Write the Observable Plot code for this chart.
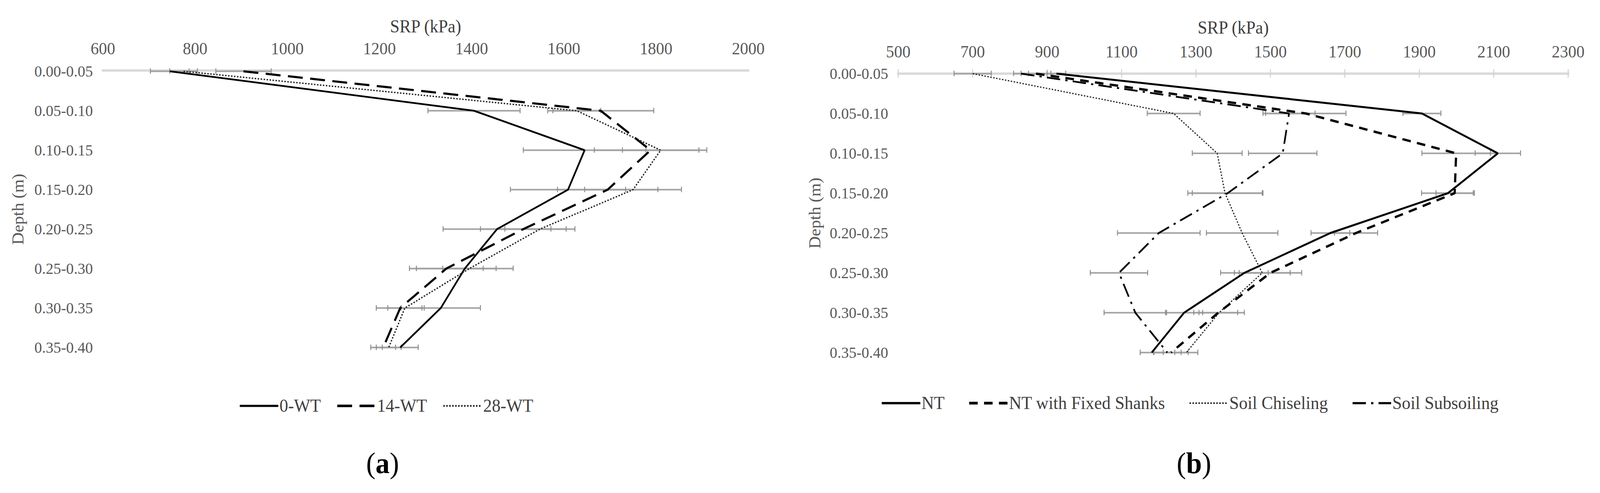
<!DOCTYPE html>
<html><head><meta charset="utf-8">
<script src="https://cdn.jsdelivr.net/npm/d3@7"></script>
<script src="https://cdn.jsdelivr.net/npm/@observablehq/plot@0.6"></script>
<style>
html,body{margin:0;padding:0;background:#fff;overflow:hidden;}
#root{position:relative;width:4299px;height:1262px;overflow:hidden;font-family:"Liberation Serif","Times New Roman",serif;background:#fff;transform-origin:0 0;}
.panel{position:absolute;top:0;}
.panel svg{font-family:"Liberation Serif","Times New Roman",serif !important;font-size:44px;overflow:visible;}
.panel svg text{font-family:"Liberation Serif","Times New Roman",serif !important;}
.legend{position:absolute;display:flex;align-items:center;font-size:46.5px;color:#404040;line-height:1;white-space:nowrap;height:50px;}
.legend .item{display:flex;align-items:center;}
.legend svg{display:block;margin-right:3px;}
.cap{position:absolute;font-size:76px;line-height:1;transform:translate(-50%,-50%);color:#000;white-space:nowrap;}
</style></head><body><div id="root"></div>
<script>
// ---------- shared categories ----------
const depths = ["0.00-0.05","0.05-0.10","0.10-0.15","0.15-0.20","0.20-0.25","0.25-0.30","0.30-0.35","0.35-0.40"];

// ---------- panel (a) ----------
const aSeries = ["0-WT","14-WT","28-WT"];
const a0WT     = [745, 1405, 1645, 1609, 1455, 1385, 1333, 1245];
const a0WTerr  = [42, 100, 133, 125, 117, 105, 86, 39];
const a14WT    = [905, 1680, 1788, 1695, 1512, 1345, 1245, 1208];
const a14WTerr = [60, 115, 122, 109, 93, 80, 52, 27];
const a28WT    = [775, 1628, 1810, 1750, 1548, 1395, 1255, 1220];
const a28WTerr = [30, 52, 83, 105, 76, 58, 37, 27];
const aTicks   = [600, 800, 1000, 1200, 1400, 1600, 1800, 2000];

// ---------- panel (b) ----------
const bSeries = ["NT","NT with Fixed Shanks","Soil Chiseling","Soil Subsoiling"];
const bNT        = [925, 1907, 2111, 1977, 1661, 1430, 1268, 1181];
const bNTerr     = [25, 51, 61, 71, 52, 64, 50, 31];
const bFixed     = [870, 1595, 1999, 1995, 1730, 1500, 1360, 1233];
const bFixedErr  = [40, 108, 92, 50, 58, 84, 52, 46];
const bChisel    = [700, 1240, 1357, 1378, 1424, 1478, 1362, 1274];
const bChiselErr = [50, 71, 67, 100, 96, 75, 68, 31];
const bSub       = [830, 1550, 1533, 1385, 1200, 1093, 1137, 1223];
const bSubErr    = [20, 70, 92, 95, 111, 77, 84, 37];
const bTicks     = [500, 700, 900, 1100, 1300, 1500, 1700, 1900, 2100, 2300];

function rowsFor(names, vals, errs) {
  return names.flatMap((s, i) => depths.map((d, j) => ({series: s, depth: d, v: vals[i][j], e: errs[i][j]})));
}
const aRows = rowsFor(aSeries, [a0WT, a14WT, a28WT], [a0WTerr, a14WTerr, a28WTerr]);
const bRows = rowsFor(bSeries, [bNT, bFixed, bChisel, bSub], [bNTerr, bFixedErr, bChiselErr, bSubErr]);

// line styles (not data)
const aStyles = {
  "0-WT":  {stroke: "#000", strokeWidth: 4.5, dash: null},
  "14-WT": {stroke: "#000", strokeWidth: 5.5, dash: "40,20"},
  "28-WT": {stroke: "#222", strokeWidth: 3.5, dash: "4,4"}
};
const bStyles = {
  "NT": {stroke: "#000", strokeWidth: 5, dash: null},
  "NT with Fixed Shanks": {stroke: "#000", strokeWidth: 6, dash: "23,17"},
  "Soil Chiseling": {stroke: "#222", strokeWidth: 3, dash: "4,4"},
  "Soil Subsoiling": {stroke: "#000", strokeWidth: 4.5, dash: "36,14,6,14"}
};

const root = document.getElementById("root");
const SERIF = '"Liberation Serif", "Times New Roman", serif';

function makePanel(cfg) {
  const div = document.createElement("div");
  div.className = "panel";
  div.style.left = cfg.left + "px";
  div.style.width = cfg.width + "px";
  const marks = [
    Plot.frame({anchor: "top", stroke: "#d9d9d9", strokeWidth: 6}),
  ];
  if (cfg.axisTicks) {
    marks.push(Plot.ruleX(cfg.ticks, {x: d => d, y1: () => depths[0], y2: () => depths[0], stroke: "#d0d0d0", strokeWidth: 2.5, insetTop: -11, insetBottom: -11}));
  }
  marks.push(
    Plot.ruleY(cfg.rows, {y: "depth", x1: d => d.v - d.e, x2: d => d.v + d.e, stroke: "#a3a3a3", strokeWidth: 4}),
    Plot.ruleX(cfg.rows, {x: d => d.v - d.e, y1: "depth", y2: "depth", stroke: "#8c8c8c", strokeWidth: 2.5, insetTop: -7, insetBottom: -7}),
    Plot.ruleX(cfg.rows, {x: d => d.v + d.e, y1: "depth", y2: "depth", stroke: "#8c8c8c", strokeWidth: 2.5, insetTop: -7, insetBottom: -7})
  );
  for (const s of cfg.series) {
    const st = cfg.styles[s];
    marks.push(Plot.line(cfg.rows.filter(d => d.series === s), {
      x: "v", y: "depth", stroke: st.stroke, strokeWidth: st.strokeWidth,
      strokeDasharray: st.dash, strokeLinejoin: "miter", strokeLinecap: "butt"
    }));
  }
  const svg = Plot.plot({
    width: cfg.width, height: 940,
    marginTop: cfg.mt, marginLeft: cfg.ml, marginRight: cfg.mr, marginBottom: 940 - cfg.yEnd,
    style: {fontFamily: SERIF, fontSize: "44px", color: "#595959", background: "transparent", overflow: "visible"},
    x: {domain: cfg.domain, ticks: cfg.ticks, axis: "top", label: "SRP (kPa)", labelAnchor: "center", labelArrow: "none",
        labelOffset: cfg.xLabelOffset, tickSize: 0, tickPadding: 42, tickFormat: d => String(d)},
    y: {type: "point", domain: depths, padding: 0, label: "Depth (m)", labelAnchor: "center", labelArrow: "none",
        labelOffset: cfg.yLabelOffset, tickSize: 0, tickPadding: 27},
    marks
  });
  svg.setAttribute("font-family", SERIF);
  svg.setAttribute("font-size", "44");
  svg.style.maxWidth = "none";
  svg.querySelectorAll("text").forEach(t => { t.style.fontFamily = SERIF; });
  svg.querySelectorAll('[aria-label="y-axis tick label"] text').forEach(t => { t.style.fontSize = "41px"; });
  svg.querySelectorAll('[aria-label="x-axis label"] text').forEach(t => { t.style.fill = "#404040"; t.style.fontSize = "46px"; });
  div.appendChild(svg);
  root.appendChild(div);

  // legend
  const lg = document.createElement("div");
  lg.className = "legend";
  lg.style.left = cfg.legendLeft + "px";
  lg.style.top = (cfg.legendY - 25) + "px";
  cfg.series.forEach((s, i) => {
    const st = cfg.styles[s];
    const it = document.createElement("div");
    it.className = "item";
    if (i > 0) it.style.marginLeft = cfg.legendGap + "px";
    const ns = "http://www.w3.org/2000/svg";
    const sv = document.createElementNS(ns, "svg");
    sv.setAttribute("width", 104); sv.setAttribute("height", 20);
    const ln = document.createElementNS(ns, "line");
    ln.setAttribute("x1", 0); ln.setAttribute("x2", 104); ln.setAttribute("y1", 10); ln.setAttribute("y2", 10);
    ln.setAttribute("stroke", st.stroke);
    ln.setAttribute("stroke-width", st.strokeWidth + 1);
    if (st.dash) ln.setAttribute("stroke-dasharray", st.dash);
    sv.appendChild(ln);
    it.appendChild(sv);
    const tx = document.createElement("span");
    tx.textContent = s;
    it.appendChild(tx);
    lg.appendChild(it);
  });
  root.appendChild(lg);

  const cap = document.createElement("div");
  cap.className = "cap";
  cap.style.left = cfg.capX + "px";
  cap.style.top = "1185px";
  cap.innerHTML = "(<b>" + cfg.cap + "</b>)";
  root.appendChild(cap);
}

makePanel({left: 0, width: 2150, ml: 276, mr: 140, mt: 180, yEnd: 890, domain: [600, 2000], ticks: aTicks,
  rows: aRows, series: aSeries, styles: aStyles, axisTicks: false, xLabelOffset: 130, yLabelOffset: 245,
  legendLeft: 644, legendY: 1039, legendGap: 44, capX: 1028, cap: "a"});
makePanel({left: 2150, width: 2149, ml: 263, mr: 86, mt: 188, yEnd: 902, domain: [500, 2300], ticks: bTicks,
  rows: bRows, series: bSeries, styles: bStyles, axisTicks: true, xLabelOffset: 135, yLabelOffset: 241,
  legendLeft: 2369, legendY: 1032, legendGap: 66, capX: 3208, cap: "b"});

// fit the 4299-wide design into the actual viewport width
const sx = Math.min(1, window.innerWidth / 4299);
root.style.transform = "scaleX(" + sx + ")";
</script></body></html>
